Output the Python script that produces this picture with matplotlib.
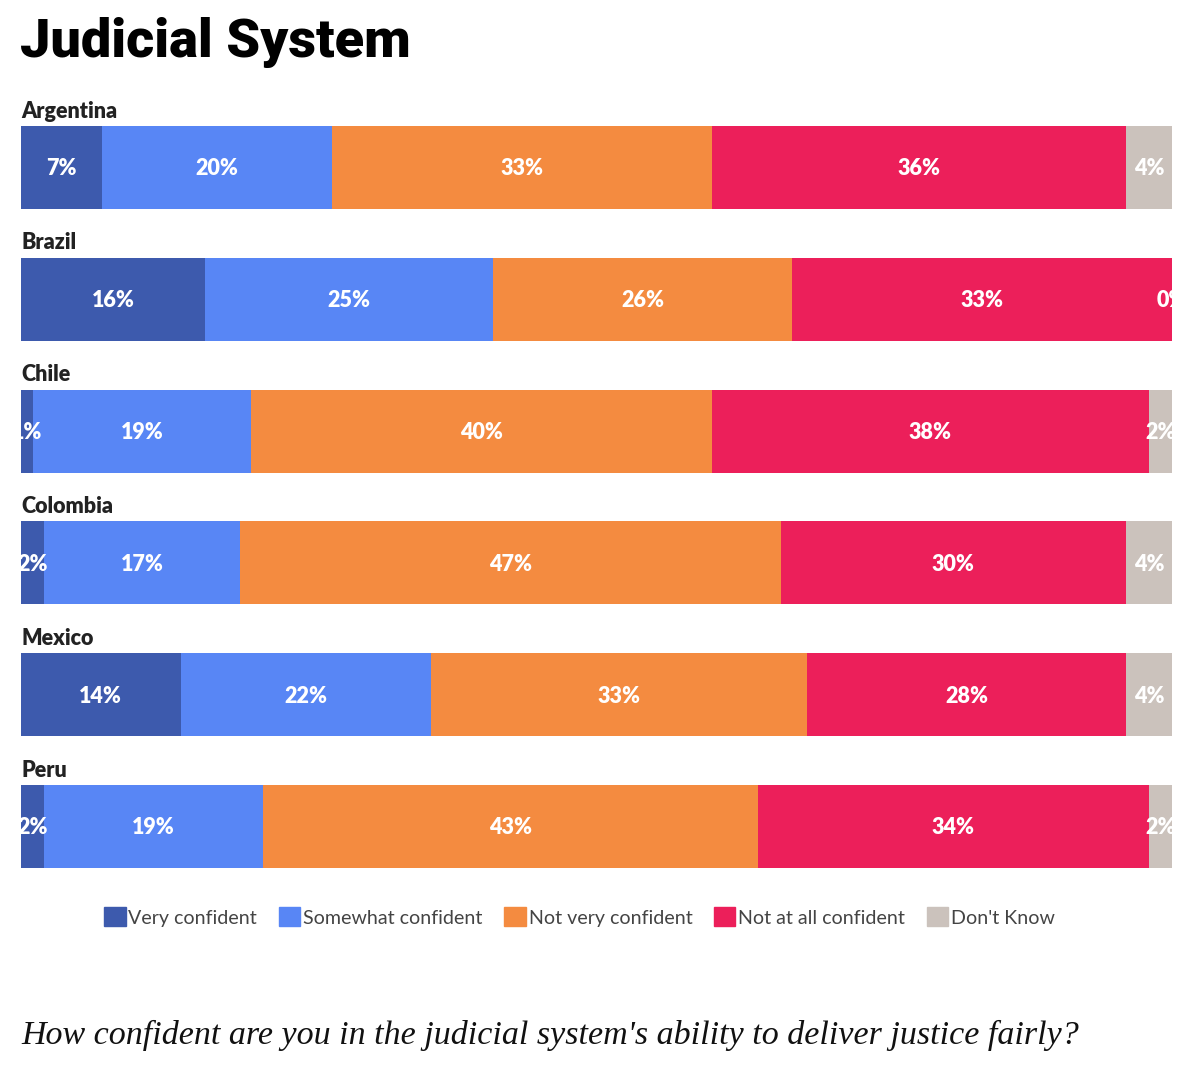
import matplotlib.pyplot as plt
import numpy as np
from matplotlib.patches import Patch

countries = ["Argentina", "Brazil", "Chile", "Colombia", "Mexico", "Peru"]
categories = ["Very confident", "Somewhat confident", "Not very confident",
              "Not at all confident", "Don't Know"]
very = [7, 16, 1, 2, 14, 2]
somewhat = [20, 25, 19, 17, 22, 19]
not_very = [33, 26, 40, 47, 33, 43]
not_at_all = [36, 33, 38, 30, 28, 34]
dont_know = [4, 0, 2, 4, 4, 2]
colors = ["#3d5aad", "#5886f5", "#f48b40", "#ec1f5a", "#cbc2bc"]

W, H = 1200, 1068
fig = plt.figure(figsize=(W / 100, H / 100), dpi=100)

ax = fig.add_axes([21 / W, 1 - 868 / H, (1172 - 21) / W, (868 - 126) / H])
data = np.array([very, somewhat, not_very, not_at_all, dont_know], dtype=float)
# each row fills the full width
shares = data / data.sum(axis=0) * 100
bar_h = 0.63
y = np.arange(len(countries))
left = np.zeros(len(countries))
for k, cat in enumerate(categories):
    ax.barh(y, shares[k], left=left, height=bar_h, color=colors[k], label=cat)
    for i in range(len(countries)):
        ax.text(left[i] + shares[k][i] / 2, y[i] + 0.01, f"{int(data[k][i])}%",
                ha="center", va="center", color="white", fontsize=15.5,
                fontweight="heavy", family="Lato", clip_on=True)
    left += shares[k]

for i, name in enumerate(countries):
    ax.annotate(name, (0, y[i] - bar_h / 2), xytext=(0, 6),
                textcoords="offset points", va="baseline", ha="left",
                fontsize=15.5, fontweight="heavy", family="Lato", color="#222222",
                annotation_clip=False)

ax.set_xlim(0, 100)
ax.set_ylim(len(countries) - 1 + bar_h / 2, -bar_h / 2)
ax.axis("off")

fig.text(20 / W, 1 - 42 / H, "Judicial System", fontsize=39, fontweight="heavy",
         family="Roboto", va="center", ha="left", color="black")

handles = [Patch(color=c, label=l) for c, l in zip(colors, categories)]
fig.legend(handles=handles, loc="center", bbox_to_anchor=(0.483, 1 - 917 / H),
           ncol=5, frameon=False, handlelength=1.1, handleheight=1.1,
           handletextpad=0.15, columnspacing=1.1,
           prop={"family": "Lato", "size": 14.1})
for t in fig.legends[0].get_texts():
    t.set_color("#444444")

fig.text(21 / W, 1 - 1035 / H,
         "How confident are you in the judicial system's ability to deliver justice fairly?",
         fontsize=24.5, family="Liberation Serif", style="italic", va="center",
         ha="left", color="#111111")

fig.savefig("out.png", dpi=100)
